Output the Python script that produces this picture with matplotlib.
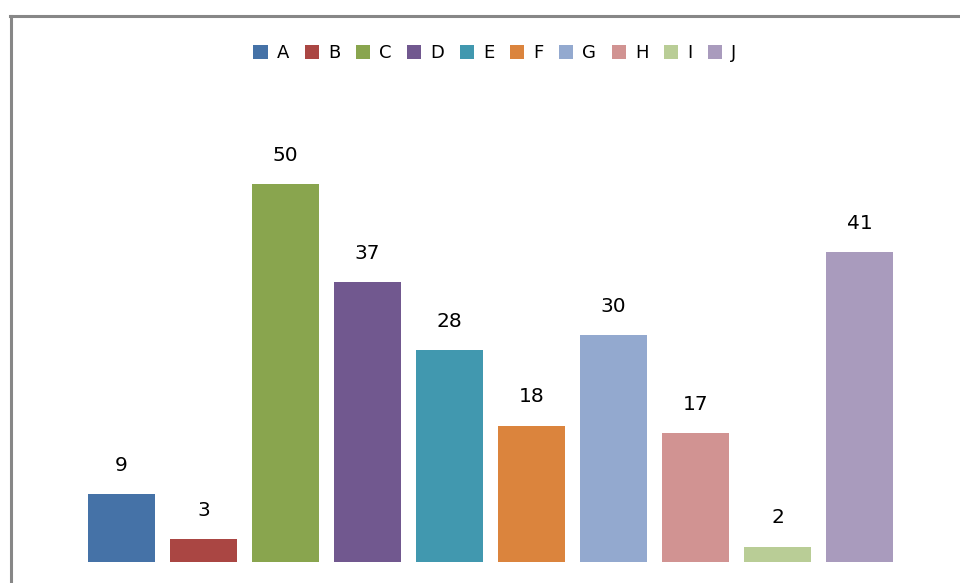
import matplotlib
matplotlib.use("Agg")
import matplotlib.pyplot as plt
from matplotlib.lines import Line2D
from matplotlib.patches import Patch

categories = ["A", "B", "C", "D", "E", "F", "G", "H", "I", "J"]
values = [9, 3, 50, 37, 28, 18, 30, 17, 2, 41]
colors = ["#4572A7", "#AA4643", "#89A54E", "#71588F", "#4198AF",
          "#DB843D", "#93A9CF", "#D19392", "#B9CD96", "#A99BBD"]

W, H = 960, 583
fig = plt.figure(figsize=(W / 100, H / 100), dpi=100)
fig.patch.set_facecolor("white")

# axes placement in pixels
left_px, right_px = 80.5, 900.5
base_px, top_px = 562, 100
ax = fig.add_axes([left_px / W, 1 - base_px / H, (right_px - left_px) / W, (base_px - top_px) / H])
ax.set_facecolor("none")
px_per_unit = 7.56
ax.set_xlim(-0.5, len(categories) - 0.5)
ax.set_ylim(0, (base_px - top_px) / px_per_unit)

x = range(len(categories))
bars = ax.bar(x, values, width=0.817, color=colors)
for xi, v in zip(x, values):
    ax.annotate(str(v), (xi, v), xytext=(0, 14), textcoords="offset points",
                ha="center", va="bottom", fontsize=14.5, family="DejaVu Sans", color="black")

ax.set_xticks([])
ax.set_yticks([])
for s in ax.spines.values():
    s.set_visible(False)

# border lines (chart frame partially visible)
fig.add_artist(Line2D([10 / W, 1], [1 - 15.5 / H, 1 - 15.5 / H], transform=fig.transFigure,
                      color="#878787", lw=2.2))
fig.add_artist(Line2D([11 / W, 11 / W], [0, 1 - 15.5 / H], transform=fig.transFigure,
                      color="#878787", lw=2.2))

handles = [Patch(facecolor=c, edgecolor="none") for c in colors]
leg = fig.legend(handles, categories, loc="center", bbox_to_anchor=(495 / W, 1 - 53 / H),
                 ncol=10, frameon=False, handlelength=0.8, handleheight=0.8,
                 handletextpad=0.5, columnspacing=0.85,
                 prop={"family": "DejaVu Sans", "size": 13})

fig.savefig("out.png", dpi=100, facecolor="white")
